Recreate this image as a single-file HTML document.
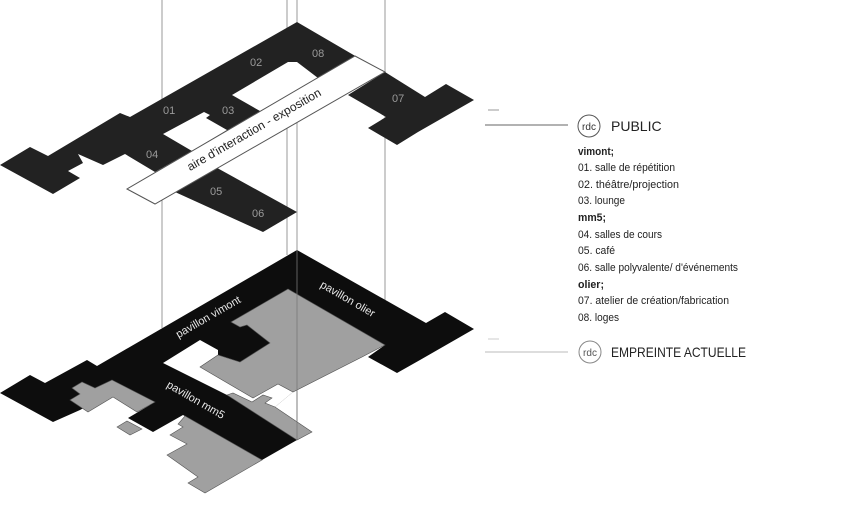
<!DOCTYPE html>
<html><head><meta charset="utf-8"><style>
html,body{margin:0;padding:0;background:#fff;}
svg{display:block;}
.lab{font-family:"Liberation Sans",sans-serif;font-size:11px;fill:#9a9a9a;}
.plab{font-family:"Liberation Sans",sans-serif;font-size:11px;fill:#e8e8e8;}
.leg{font-family:"Liberation Sans",sans-serif;font-size:11px;fill:#222;}
</style></head><body>
<svg width="860" height="520" viewBox="0 0 860 520" xmlns="http://www.w3.org/2000/svg">
<g stroke="#9a9a9a" stroke-width="1">
<line x1="162" y1="0" x2="162" y2="328"/>
<line x1="287" y1="0" x2="287" y2="255"/>
<line x1="297" y1="0" x2="297" y2="440"/>
<line x1="385" y1="0" x2="385" y2="345"/>
</g>
<polygon fill="#222" points="0,165 30,147 48,156 120,113 130,117 297,22 357,57 155,172 125,154 103,165 78,154 83,163 68,171 80,178 53,194"/>
<polygon fill="#fff" points="163,134 204,112 210,115 206,118 227,130 192,151"/>
<polygon fill="#fff" points="232,95 288,62 297,62 318,78 260,111"/>
<polygon fill="#222" points="175,192 263,232 297,212 210,164"/>
<polygon fill="#222" points="348,95 385,72 425,97 446,84 474,100 418,132 397,145 368,128 386,117"/>
<polygon fill="#fff" stroke="#555" stroke-width="1" points="127,189 155,204 385,72 355,56"/>
<text x="0" y="0" transform="translate(256,133) rotate(-30)" text-anchor="middle" style="font-family:'Liberation Sans',sans-serif;font-size:12px;fill:#222">aire d'interaction - exposition</text>
<g class="lab">
<text x="250" y="66">02</text><text x="312" y="57">08</text>
<text x="163" y="114">01</text><text x="222" y="114">03</text>
<text x="146" y="158">04</text><text x="392" y="102">07</text>
<text x="210" y="195">05</text><text x="252" y="217">06</text>
</g>
<polygon fill="#0d0d0d" points="0,393 30,375 45,383 87,360 97,366 297,250 426,323 445,312 474,329 420,360 397,373 368,357 385,345 362,357 293,392 275,407 312,432 297,440 262,460 183,415 153,432 128,418 150,405 120,388 80,410 53,422"/>
<polygon fill="#fff" points="163,363 200,340 218,350 218,355 200,367 253,398 278,384 293,392 275,407 265,403 272,398 263,395 252,402 233,393 227,395"/>
<g fill="#a0a0a0" stroke="#555" stroke-width="0.6">
<polygon points="231,322 288,289 385,345 362,357 293,392 278,384 253,398 200,367 218,355 240,362 270,343 247,325 240,327"/>
<polygon points="227,395 233,393 252,402 263,395 272,398 265,403 275,407 312,432 297,440"/>
<polygon points="262,460 205,493 188,483 198,477 167,455 187,444 170,435 183,427 178,424 185,416"/>
<polygon points="70,400 80,394 72,388 82,382 95,388 112,380 155,402 137,412 113,397 88,412"/>
<polygon points="117,427 127,421 142,429 130,435"/>
</g>
<line x1="297" y1="250" x2="297" y2="440" stroke="#777" stroke-width="0.8"/>
<g class="plab">
<text transform="translate(210,320) rotate(-30)" text-anchor="middle">pavillon vimont</text>
<text transform="translate(346,302) rotate(30)" text-anchor="middle">pavillon olier</text>
<text transform="translate(194,403) rotate(30)" text-anchor="middle">pavillon mm5</text>
</g>
<g stroke="#999" stroke-width="1">
<line x1="488" y1="110" x2="499" y2="110"/>
<line x1="485" y1="125" x2="568" y2="125" stroke="#666"/>
<line x1="488" y1="339" x2="499" y2="339" stroke="#ccc"/>
<line x1="485" y1="352" x2="568" y2="352" stroke="#bbb"/>
</g>
<circle cx="589" cy="126" r="11" fill="#fff" stroke="#555"/>
<text x="589" y="130" text-anchor="middle" style="font-family:'Liberation Sans',sans-serif;font-size:10px;fill:#333">rdc</text>
<text x="611" y="131" style="font-family:'Liberation Sans',sans-serif;font-size:14px;fill:#222">PUBLIC</text>
<circle cx="590" cy="352" r="11" fill="#fff" stroke="#888"/>
<text x="590" y="356" text-anchor="middle" style="font-family:'Liberation Sans',sans-serif;font-size:10px;fill:#555">rdc</text>
<text x="611" y="357" style="font-family:'Liberation Sans',sans-serif;font-size:14px;fill:#222" textLength="135" lengthAdjust="spacingAndGlyphs">EMPREINTE ACTUELLE</text>
<g class="leg">
<text x="578" y="155" font-weight="bold" textLength="36" lengthAdjust="spacingAndGlyphs">vimont;</text>
<text x="578" y="171" textLength="97" lengthAdjust="spacingAndGlyphs">01. salle de répétition</text>
<text x="578" y="188" textLength="101" lengthAdjust="spacingAndGlyphs">02. théâtre/projection</text>
<text x="578" y="204" textLength="47" lengthAdjust="spacingAndGlyphs">03. lounge</text>
<text x="578" y="221" font-weight="bold" textLength="28" lengthAdjust="spacingAndGlyphs">mm5;</text>
<text x="578" y="238" textLength="84" lengthAdjust="spacingAndGlyphs">04. salles de cours</text>
<text x="578" y="254" textLength="37" lengthAdjust="spacingAndGlyphs">05. café</text>
<text x="578" y="271" textLength="160" lengthAdjust="spacingAndGlyphs">06. salle polyvalente/ d'événements</text>
<text x="578" y="288" font-weight="bold" textLength="26" lengthAdjust="spacingAndGlyphs">olier;</text>
<text x="578" y="304" textLength="151" lengthAdjust="spacingAndGlyphs">07. atelier de création/fabrication</text>
<text x="578" y="321" textLength="41" lengthAdjust="spacingAndGlyphs">08. loges</text>
</g>
</svg>
</body></html>
